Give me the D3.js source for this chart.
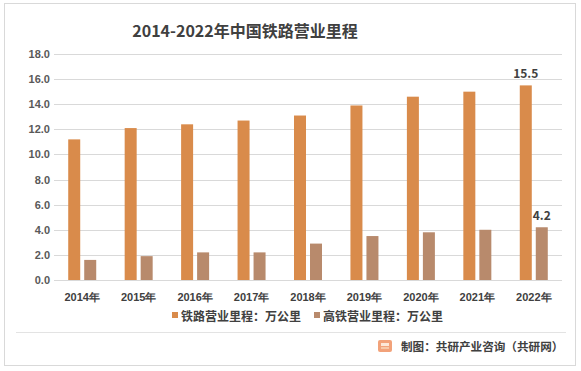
<!DOCTYPE html>
<html>
<head>
<meta charset="utf-8">
<script src="https://cdn.jsdelivr.net/npm/d3@7"></script>
<style>
  body { margin: 0; background: #fff; }
  svg { display: block; font-family: "Noto Sans CJK SC", "Open Sans", sans-serif; }
</style>
</head>
<body>
<svg id="chart"></svg>
<script>
const years = ["2014年", "2015年", "2016年", "2017年", "2018年", "2019年", "2020年", "2021年", "2022年"];
const seriesNames = ["铁路营业里程：万公里", "高铁营业里程：万公里"];
const railway = [11.2, 12.1, 12.4, 12.7, 13.1, 13.9, 14.6, 15.0, 15.5];
const highSpeed = [1.6, 1.9, 2.2, 2.2, 2.9, 3.5, 3.8, 4.0, 4.2];
const yTicks = [0, 2, 4, 6, 8, 10, 12, 14, 16, 18];
const colors = ["#d98b4b", "#b88a6c"];

const width = 581, height = 371;
const svg = d3.select("#chart").attr("width", width).attr("height", height);

// outer frame and the line above the footer
svg.append("rect").attr("x", 4.5).attr("y", 3.5).attr("width", 571).attr("height", 362)
  .attr("fill", "none").attr("stroke", "#d9d9d9");
svg.append("line").attr("x1", 16).attr("x2", 566).attr("y1", 332.5).attr("y2", 332.5)
  .attr("stroke", "#e3e3e3");

const x0 = d3.scaleBand().domain(years).range([54, 562]);
const x1 = d3.scaleBand().domain(seriesNames).range([0, 28]).paddingInner(0.25);
const y = d3.scaleLinear().domain([0, 18]).range([280, 54]);

// grid
svg.append("g").selectAll("line").data(yTicks).join("line")
  .attr("x1", 54).attr("x2", 562)
  .attr("y1", d => Math.round(y(d)) + 0.5).attr("y2", d => Math.round(y(d)) + 0.5)
  .attr("stroke", "#d9d9d9");

const yAxis = svg.append("g").attr("transform", "translate(50,0)")
  .call(d3.axisLeft(y).tickValues(yTicks).tickFormat(d3.format(".1f")).tickSize(0).tickPadding(0));
yAxis.select(".domain").remove();
yAxis.selectAll("text").attr("fill", "#595959").attr("font-size", 11).attr("font-weight", "bold");

const xAxis = svg.append("g").attr("transform", "translate(0,289)")
  .call(d3.axisBottom(x0).tickSize(0).tickPadding(4));
xAxis.select(".domain").remove();
xAxis.selectAll("text").attr("fill", "#404040").attr("font-size", 11).attr("font-weight", "bold");

const rows = years.map((yr, i) => ({ year: yr, values: [railway[i], highSpeed[i]] }));

const groups = svg.append("g").selectAll("g").data(rows).join("g")
  .attr("transform", d => `translate(${x0(d.year) + x0.bandwidth() / 2 - 14},0)`);

groups.selectAll("rect").data(d => d.values.map((v, k) => ({ k, v }))).join("rect")
  .attr("x", d => x1(seriesNames[d.k]))
  .attr("width", x1.bandwidth())
  .attr("y", d => y(d.v))
  .attr("height", d => y(0) - y(d.v))
  .attr("fill", d => colors[d.k]);

// labels on the last year
const last = rows[rows.length - 1];
const lastX = x0(last.year) + x0.bandwidth() / 2 - 14;
last.values.forEach((v, k) => {
  svg.append("text")
    .attr("x", lastX + x1(seriesNames[k]) + x1.bandwidth() / 2)
    .attr("y", y(v) - 7)
    .attr("text-anchor", "middle")
    .attr("font-size", 12).attr("font-weight", "bold").attr("fill", "#404040")
    .text(d3.format(".1f")(v));
});

// title
svg.append("text").attr("x", 245).attr("y", 37).attr("text-anchor", "middle")
  .attr("font-size", 16).attr("font-weight", "bold").attr("fill", "#404040")
  .text("2014-2022年中国铁路营业里程");

// legend
const legendX = [172, 314];
seriesNames.forEach((s, k) => {
  const g = svg.append("g").attr("transform", `translate(${legendX[k]},316)`);
  g.append("rect").attr("x", 0).attr("y", -4).attr("width", 6).attr("height", 6).attr("fill", colors[k]);
  g.append("text").attr("x", 9).attr("y", 4.5).attr("font-size", 12).attr("font-weight", "bold")
    .attr("fill", "#404040").text(s);
});

// footer
const logo = svg.append("g").attr("transform", "translate(378,340)");
logo.append("rect").attr("width", 14).attr("height", 12).attr("rx", 2).attr("fill", "#f2a27a");
logo.append("rect").attr("x", 3).attr("y", 3).attr("width", 8).attr("height", 3).attr("fill", "#fde8d8");
logo.append("rect").attr("x", 3).attr("y", 7).attr("width", 8).attr("height", 2).attr("fill", "#f7c9a8");
svg.append("text").attr("x", 401).attr("y", 351).attr("font-size", 11.6).attr("font-weight", "bold")
  .attr("fill", "#404040").text("制图：共研产业咨询（共研网）");
</script>
</body>
</html>
